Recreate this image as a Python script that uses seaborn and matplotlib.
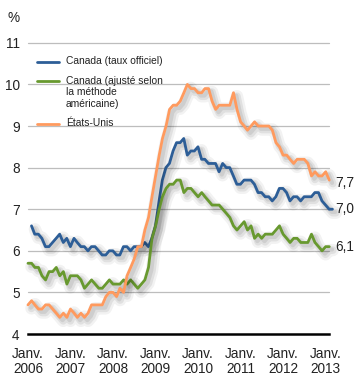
import matplotlib
matplotlib.use("Agg")
import matplotlib.pyplot as plt
import matplotlib.patheffects as pe
import matplotlib.transforms as mtransforms
from matplotlib.lines import Line2D
import seaborn as sns
import pandas as pd

# Taux de chômage mensuels, janv. 2006 à févr. 2013 (%)
canada_officiel = [
    6.6, 6.4, 6.4, 6.3, 6.1, 6.1, 6.2, 6.3, 6.4, 6.2, 6.3, 6.1,
    6.3, 6.2, 6.1, 6.1, 6.0, 6.1, 6.1, 6.0, 5.9, 5.9, 6.0, 6.0,
    5.9, 5.9, 6.1, 6.1, 6.0, 6.1, 6.1, 6.1, 6.2, 6.1, 6.3, 6.6,
    7.2, 7.7, 8.0, 8.1, 8.4, 8.6, 8.6, 8.7, 8.3, 8.4, 8.4, 8.5,
    8.2, 8.2, 8.1, 8.1, 8.1, 7.9, 8.1, 8.0, 8.0, 7.8, 7.6, 7.6,
    7.7, 7.7, 7.7, 7.6, 7.4, 7.4, 7.3, 7.3, 7.2, 7.3, 7.5, 7.5,
    7.4, 7.2, 7.3, 7.3, 7.2, 7.3, 7.3, 7.3, 7.4, 7.4, 7.2, 7.1,
    7.0, 7.0,
]
canada_ajuste = [
    5.7, 5.7, 5.6, 5.6, 5.4, 5.3, 5.5, 5.5, 5.6, 5.4, 5.5, 5.2,
    5.4, 5.4, 5.4, 5.3, 5.1, 5.2, 5.3, 5.2, 5.1, 5.1, 5.2, 5.3,
    5.2, 5.2, 5.2, 5.3, 5.2, 5.3, 5.2, 5.1, 5.2, 5.3, 5.6, 6.3,
    6.6, 7.0, 7.3, 7.5, 7.6, 7.6, 7.7, 7.7, 7.4, 7.5, 7.5, 7.4,
    7.3, 7.4, 7.3, 7.2, 7.1, 7.1, 7.1, 7.0, 6.9, 6.8, 6.6, 6.5,
    6.6, 6.7, 6.5, 6.6, 6.3, 6.4, 6.3, 6.4, 6.4, 6.4, 6.5, 6.6,
    6.4, 6.3, 6.2, 6.3, 6.3, 6.2, 6.2, 6.2, 6.4, 6.2, 6.1, 6.0,
    6.1, 6.1,
]
etats_unis = [
    4.7, 4.8, 4.7, 4.6, 4.6, 4.7, 4.7, 4.6, 4.5, 4.4, 4.5, 4.4,
    4.6, 4.5, 4.4, 4.5, 4.4, 4.5, 4.7, 4.7, 4.7, 4.7, 4.9, 5.0,
    5.0, 4.9, 5.1, 5.0, 5.4, 5.6, 5.8, 6.1, 6.1, 6.5, 6.8, 7.3,
    7.8, 8.3, 8.7, 9.0, 9.4, 9.5, 9.5, 9.6, 9.8, 10.0, 9.9, 9.9,
    9.8, 9.8, 9.9, 9.9, 9.6, 9.4, 9.5, 9.5, 9.5, 9.5, 9.8, 9.4,
    9.1, 9.0, 8.9, 9.0, 9.1, 9.0, 9.0, 9.0, 9.0, 8.9, 8.6, 8.5,
    8.3, 8.3, 8.2, 8.1, 8.2, 8.2, 8.2, 8.1, 7.8, 7.9, 7.8, 7.8,
    7.9, 7.7,
]
noms = ["Canada (taux officiel)",
        "Canada (ajusté selon\nla méthode\naméricaine)",
        "États-Unis"]
couleurs = ["#2d5e97", "#68992f", "#ff9a5e"]
annees = list(range(2006, 2014))
etiquettes_x = [f"Janv.\n{a}" for a in annees]
graduations_y = [4, 5, 6, 7, 8, 9, 10, 11]

mois = pd.date_range("2006-01-01", periods=len(etats_unis), freq="MS")
# la série officielle est datée en fin de mois
mois_fin = mois + pd.offsets.MonthEnd(0)

sns.set_style("white")
plt.rcParams["font.family"] = ["Liberation Sans", "DejaVu Sans"]

fig = plt.figure(figsize=(3.6, 3.89), dpi=100)
ax = fig.add_axes([28 / 360, 1 - 334 / 389, 301.3 / 360, 292 / 389])

ombre = [
    pe.SimpleLineShadow(offset=(2.5, -2.5), shadow_color="k", alpha=0.05, linewidth=9),
    pe.SimpleLineShadow(offset=(2.5, -2.5), shadow_color="k", alpha=0.07, linewidth=5.5),
    pe.SimpleLineShadow(offset=(2, -2), shadow_color="k", alpha=0.08, linewidth=3),
    pe.Normal(),
]

series = [(mois_fin, canada_officiel), (mois, canada_ajuste), (mois, etats_unis)]
for (x, y), c in zip(series, couleurs):
    sns.lineplot(x=x, y=y, ax=ax, color=c, linewidth=2.0, clip_on=False,
                 path_effects=ombre, zorder=3)

ax.set_xlim(mois[0], mois[-1])
ax.set_ylim(4, 11.02)
ax.set_yticks(graduations_y)
ax.set_yticklabels([str(v) for v in graduations_y], fontsize=9.8)
ax.set_xticks([pd.Timestamp(f"{a}-01-01") for a in annees])
ax.set_xticklabels(etiquettes_x, fontsize=9.8, linespacing=1.1)
ax.set_xlabel("")
ax.set_ylabel("")

for v in graduations_y[1:]:
    ax.axhline(v, color="#bdbdbd", linewidth=0.9, zorder=1, clip_on=False)

for s in ["top", "right", "left"]:
    ax.spines[s].set_visible(False)
ax.spines["bottom"].set_color("black")
ax.spines["bottom"].set_linewidth(1.8)
ax.spines["bottom"].set_zorder(4)
ax.tick_params(axis="y", length=0, pad=6, colors="#222222")
ax.tick_params(axis="x", length=3, width=0.8, color="#999999", pad=6,
               labelcolor="#222222")

# valeurs finales
trans = mtransforms.blended_transform_factory(ax.transAxes, ax.transData)
for y, dy in zip([canada_officiel, canada_ajuste, etats_unis], [0, 0, -0.06]):
    ax.text(1.02, y[-1] + dy, f"{y[-1]:.1f}".replace(".", ","), transform=trans,
            fontsize=9.8, va="center", ha="left", color="#222222")

fig.text(14 / 360, 1 - 18 / 389, "%", fontsize=9.8, ha="center", va="center",
         color="#222222")

# légende
ys_leg = [62, 81, 124]
for yl, c, n in zip(ys_leg, couleurs, noms):
    fig.add_artist(Line2D([37 / 360, 59 / 360], [1 - yl / 389] * 2, color=c,
                          linewidth=2.0, transform=fig.transFigure))
    fig.text(66 / 360, 1 - (yl - 5.5) / 389, n, fontsize=7.4, ha="left", va="top",
             linespacing=1.2, color="#222222")

fig.savefig("out.png", dpi=100)
